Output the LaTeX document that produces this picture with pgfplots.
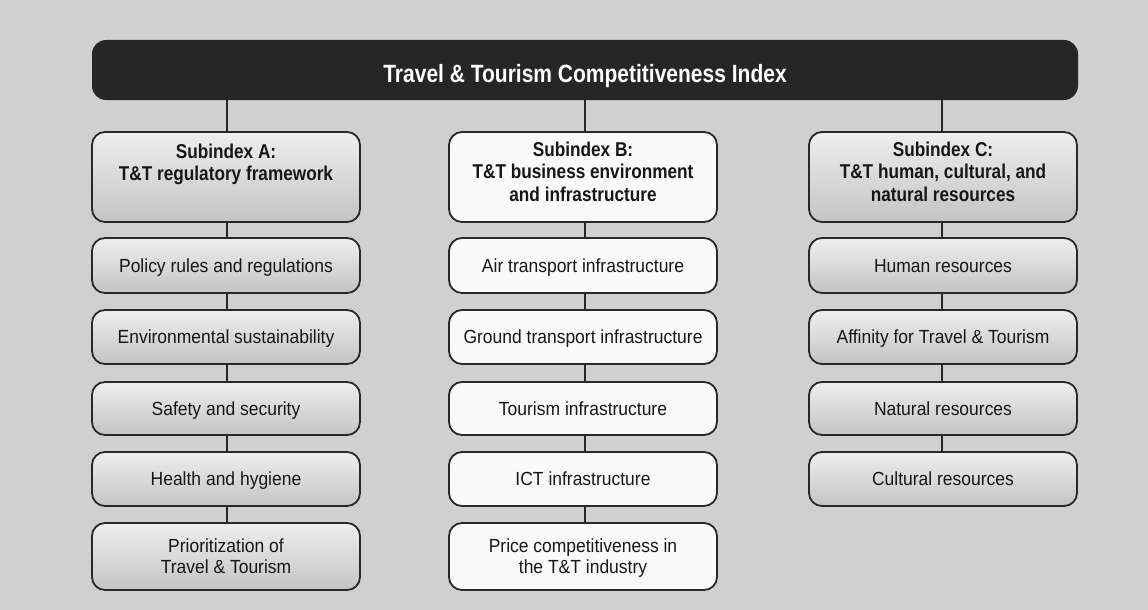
\documentclass[border=0pt]{standalone}
\usepackage{pgfplots}
\pgfplotsset{compat=1.18}
\usepackage{fontspec}
\setmainfont{Liberation Sans}
\newfontfamily\regf[FakeStretch=0.92]{Liberation Sans}
\newfontfamily\hdf[FakeStretch=0.86]{Liberation Sans}
\newfontfamily\ttlf[FakeStretch=0.84]{Liberation Sans}
\definecolor{bg}{RGB}{208,208,208}
\definecolor{bar}{RGB}{38,38,38}
\definecolor{edge}{RGB}{40,40,40}
\definecolor{txt}{RGB}{22,22,22}
\definecolor{gtop}{RGB}{238,238,238}
\definecolor{gbot}{RGB}{196,196,196}
\definecolor{wbox}{RGB}{250,250,250}
\begin{document}
\begin{tikzpicture}
\begin{axis}[hide axis, scale only axis, width=1148pt, height=610pt,
  xmin=0, xmax=1148, ymin=0, ymax=610, y dir=reverse, clip=false]
% background
\fill[bg] (axis cs:0,0) rectangle (axis cs:1148,610);
% connectors
\addplot[line width=2.4pt, color=edge, no marks] coordinates {(227,100) (227,523)};
\addplot[line width=2.4pt, color=edge, no marks] coordinates {(585,100) (585,523)};
\addplot[line width=2.4pt, color=edge, no marks] coordinates {(942,100) (942,452)};
% title bar
\fill[bar, rounded corners=14pt] (axis cs:92,40) rectangle (axis cs:1078,100);
\node[anchor=base, text=white, inner sep=0pt, font=\ttlf\bfseries\fontsize{25}{28}\selectfont] at (axis cs:585,82) {Travel \& Tourism Competitiveness Index};
% ---- column A (gradient) ----
\draw[line width=1.8pt, draw=edge, rounded corners=13pt, top color=gtop, bottom color=gbot] (axis cs:92,132) rectangle (axis cs:360,222);
\draw[line width=1.8pt, draw=edge, rounded corners=13pt, top color=gtop, bottom color=gbot] (axis cs:92,238) rectangle (axis cs:360,293);
\draw[line width=1.8pt, draw=edge, rounded corners=13pt, top color=gtop, bottom color=gbot] (axis cs:92,310) rectangle (axis cs:360,364);
\draw[line width=1.8pt, draw=edge, rounded corners=13pt, top color=gtop, bottom color=gbot] (axis cs:92,382) rectangle (axis cs:360,435);
\draw[line width=1.8pt, draw=edge, rounded corners=13pt, top color=gtop, bottom color=gbot] (axis cs:92,452) rectangle (axis cs:360,506);
\draw[line width=1.8pt, draw=edge, rounded corners=13pt, top color=gtop, bottom color=gbot] (axis cs:92,523) rectangle (axis cs:360,590);
% ---- column B (white) ----
\draw[line width=1.8pt, draw=edge, rounded corners=13pt, fill=wbox] (axis cs:449,132) rectangle (axis cs:717,222);
\draw[line width=1.8pt, draw=edge, rounded corners=13pt, fill=wbox] (axis cs:449,238) rectangle (axis cs:717,293);
\draw[line width=1.8pt, draw=edge, rounded corners=13pt, fill=wbox] (axis cs:449,310) rectangle (axis cs:717,364);
\draw[line width=1.8pt, draw=edge, rounded corners=13pt, fill=wbox] (axis cs:449,382) rectangle (axis cs:717,435);
\draw[line width=1.8pt, draw=edge, rounded corners=13pt, fill=wbox] (axis cs:449,452) rectangle (axis cs:717,506);
\draw[line width=1.8pt, draw=edge, rounded corners=13pt, fill=wbox] (axis cs:449,523) rectangle (axis cs:717,590);
% ---- column C (gradient) ----
\draw[line width=1.8pt, draw=edge, rounded corners=13pt, top color=gtop, bottom color=gbot] (axis cs:809,132) rectangle (axis cs:1077,222);
\draw[line width=1.8pt, draw=edge, rounded corners=13pt, top color=gtop, bottom color=gbot] (axis cs:809,238) rectangle (axis cs:1077,293);
\draw[line width=1.8pt, draw=edge, rounded corners=13pt, top color=gtop, bottom color=gbot] (axis cs:809,310) rectangle (axis cs:1077,364);
\draw[line width=1.8pt, draw=edge, rounded corners=13pt, top color=gtop, bottom color=gbot] (axis cs:809,382) rectangle (axis cs:1077,435);
\draw[line width=1.8pt, draw=edge, rounded corners=13pt, top color=gtop, bottom color=gbot] (axis cs:809,452) rectangle (axis cs:1077,506);
% ---- headings ----
\begin{scope}[every node/.style={anchor=base, inner sep=0pt, text=txt, font=\hdf\bfseries\fontsize{20}{23}\selectfont}]
\node at (axis cs:226,158) {Subindex A:};
\node at (axis cs:226,180) {T\&T regulatory framework};
\node at (axis cs:583,156) {Subindex B:};
\node at (axis cs:583,178) {T\&T business environment};
\node at (axis cs:583,201) {and infrastructure};
\node at (axis cs:943,156) {Subindex C:};
\node at (axis cs:943,178) {T\&T human, cultural, and};
\node at (axis cs:943,201) {natural resources};
\end{scope}
% ---- pillars ----
\begin{scope}[every node/.style={anchor=base, inner sep=0pt, text=txt, font=\regf\fontsize{19}{22}\selectfont}]
\node at (axis cs:226,272) {Policy rules and regulations};
\node at (axis cs:226,343.5) {Environmental sustainability};
\node at (axis cs:226,415) {Safety and security};
\node at (axis cs:226,485.5) {Health and hygiene};
\node at (axis cs:226,552) {Prioritization of};
\node at (axis cs:226,573) {Travel \& Tourism};
\node at (axis cs:583,272) {Air transport infrastructure};
\node at (axis cs:583,343.5) {Ground transport infrastructure};
\node at (axis cs:583,415) {Tourism infrastructure};
\node at (axis cs:583,485.5) {ICT infrastructure};
\node at (axis cs:583,552) {Price competitiveness in};
\node at (axis cs:583,573) {the T\&T industry};
\node at (axis cs:943,272) {Human resources};
\node at (axis cs:943,343.5) {Affinity for Travel \& Tourism};
\node at (axis cs:943,415) {Natural resources};
\node at (axis cs:943,485.5) {Cultural resources};
\end{scope}
\end{axis}
\end{tikzpicture}
\end{document}
